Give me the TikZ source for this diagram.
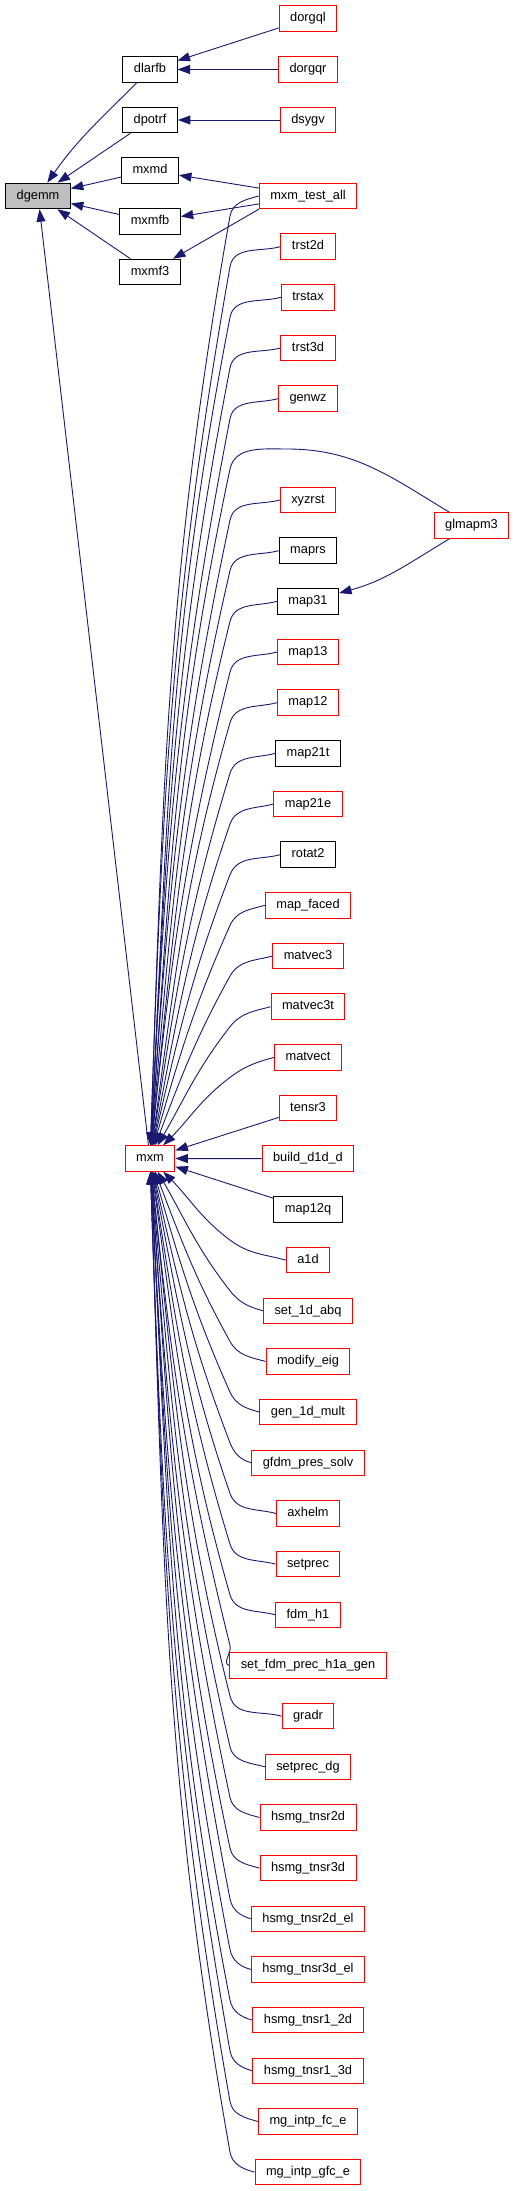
\documentclass[tikz,border=0pt]{standalone}
\usepackage{fontspec}
\setmainfont{Liberation Sans}
\usetikzlibrary{arrows.meta}

\definecolor{edgeblue}{HTML}{191970}
\definecolor{rootgray}{HTML}{BFBFBF}

\tikzset{
  fn/.style={draw=red, line width=1pt, fill=white, minimum height=25.5pt,
    inner xsep=11pt, inner ysep=0pt, text height=9.5pt, text depth=3pt,
    font=\fontsize{12.8pt}{15pt}\selectfont},
  fnblack/.style={fn, draw=black},
  call/.style={draw=edgeblue, line width=0.9pt, -{Triangle[length=12.5pt,width=9pt]}}
}

\begin{document}
\begin{tikzpicture}[x=1pt,y=1pt]
  \useasboundingbox (0,0) rectangle (515,-2191);
  \node[fnblack, fill=rootgray] (dgemm) at (38,-196) {dgemm};
  \node[fnblack] (dlarfb) at (150,-69.5) {dlarfb};
  \node[fnblack] (dpotrf) at (150,-120) {dpotrf};
  \node[fnblack] (mxmd) at (150,-170.5) {mxmd};
  \node[fnblack] (mxmfb) at (150,-221.5) {mxmfb};
  \node[fnblack] (mxmf3) at (150,-272) {mxmf3};
  \node[fn] (mxm) at (150,-1158.5) {mxm};
  \node[fn] (dorgql) at (308,-18.5) {dorgql};
  \node[fn] (dorgqr) at (308,-69.5) {dorgqr};
  \node[fn] (dsygv) at (308,-120) {dsygv};
  \node[fn] (glmapm3) at (471.5,-525.5) {glmapm3};

  \draw[call] (dorgql) -- (dlarfb);
  \draw[call] (dorgqr) -- (dlarfb);
  \draw[call] (dsygv) -- (dpotrf);
  \draw[call] (dlarfb) to[out=225,in=55] (dgemm);
  \draw[call] (dpotrf) -- (dgemm);
  \draw[call] (mxmd) -- (dgemm);
  \draw[call] (mxmfb) -- (dgemm);
  \draw[call] (mxmf3) -- (dgemm);
  \draw[call] (mxm) -- (dgemm);

  % callers of mxm, one row each
  \foreach \nm/\lab/\cl/\r in {
      mtest/mxm\_test\_all/red/0, trst2d/trst2d/red/1, trstax/trstax/red/2,
      trst3d/trst3d/red/3, genwz/genwz/red/4, xyzrst/xyzrst/red/6,
      maprs/maprs/black/7, map31/map31/black/8, map13/map13/red/9,
      map12/map12/red/10, map21t/map21t/black/11, map21e/map21e/red/12,
      rotat2/rotat2/black/13, mapfaced/map\_faced/red/14, matvec3/matvec3/red/15,
      matvec3t/matvec3t/red/16, matvect/matvect/red/17, tensr3/tensr3/red/18,
      build/build\_d1d\_d/red/19, map12q/map12q/black/20, a1d/a1d/red/21,
      set1dabq/set\_1d\_abq/red/22, modifyeig/modify\_eig/red/23,
      gen1dmult/gen\_1d\_mult/red/24, gfdm/gfdm\_pres\_solv/red/25,
      axhelm/axhelm/red/26, setprec/setprec/red/27, fdmh1/fdm\_h1/red/28,
      setfdm/set\_fdm\_prec\_h1a\_gen/red/29, gradr/gradr/red/30,
      setprecdg/setprec\_dg/red/31, tnsr2d/hsmg\_tnsr2d/red/32,
      tnsr3d/hsmg\_tnsr3d/red/33, tnsr2del/hsmg\_tnsr2d\_el/red/34,
      tnsr3del/hsmg\_tnsr3d\_el/red/35, tnsr12d/hsmg\_tnsr1\_2d/red/36,
      tnsr13d/hsmg\_tnsr1\_3d/red/37, intpfc/mg\_intp\_fc\_e/red/38,
      intpgfc/mg\_intp\_gfc\_e/red/39} {
    \pgfmathsetmacro\yy{196+50.67*\r}
    \node[fn, draw=\cl] (\nm) at (308,-\yy) {\lab};
    \ifnum\r<18
      \pgfmathsetmacro\by{\yy+20}
      \pgfmathtruncatemacro\ang{atan2(1146-\by,75)}
      \pgfmathtruncatemacro\inA{\ang-5}
      \pgfmathtruncatemacro\outB{\ang+175}
      \pgfmathtruncatemacro\inB{\ang+3}
      \draw[call] (\nm.west) to[out=195,in=\inA] (230,-\by) to[out=\outB,in=\inB] (mxm);
    \fi
    \ifnum\r>20
      \pgfmathsetmacro\by{\yy-20}
      \pgfmathtruncatemacro\ang{-atan2(\by-1171,75)}
      \pgfmathtruncatemacro\inA{\ang+5}
      \pgfmathtruncatemacro\outB{\ang+185}
      \pgfmathtruncatemacro\inB{\ang-3}
      \draw[call] (\nm.west) to[out=165,in=\inA] (230,-\by) to[out=\outB,in=\inB] (mxm);
    \fi
  }
  \draw[call] (tensr3) -- (mxm);
  \draw[call] (build) -- (mxm);
  \draw[call] (map12q) -- (mxm);

  \draw[call] (mtest) -- (mxmd);
  \draw[call] (mtest) -- (mxmfb);
  \draw[call] (mtest.south west) -- (mxmf3);

  \coordinate (gtop) at (287,-449);
  \draw[call] (glmapm3) to[out=149,in=0] (gtop) to[out=180,in=78] (230,-469) to[out=258,in=86] (mxm);
  \draw[call] (glmapm3) to[out=211,in=15] (map31);
\end{tikzpicture}
\end{document}
